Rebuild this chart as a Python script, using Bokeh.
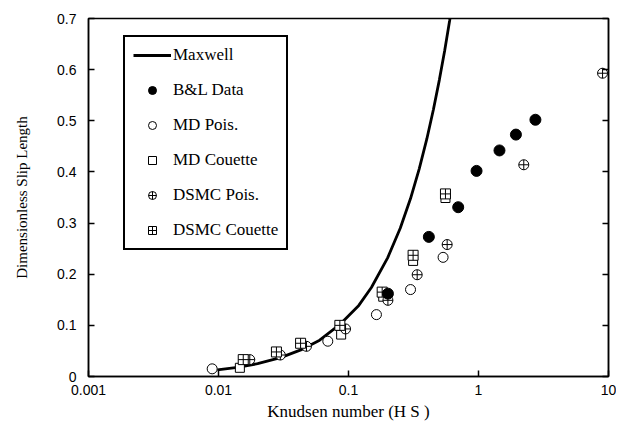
from bokeh.plotting import figure
from bokeh.models import FixedTicker, LinearAxis, Legend, LegendItem
from bokeh.embed import file_html
from bokeh.resources import INLINE

# Maxwell curve
maxwell_kn = [0.0098, 0.014, 0.02, 0.03, 0.043, 0.06, 0.087, 0.12, 0.15, 0.2, 0.25,
              0.3, 0.35, 0.4, 0.45, 0.5, 0.55, 0.6, 0.63]
maxwell_s = [0.013, 0.018, 0.025, 0.037, 0.052, 0.071, 0.103, 0.139, 0.174, 0.232, 0.290,
             0.348, 0.406, 0.464, 0.522, 0.580, 0.638, 0.696, 0.731]

bl_kn = [0.201, 0.415, 0.698, 0.966, 1.45, 1.94, 2.74]
bl_s = [0.162, 0.273, 0.331, 0.402, 0.442, 0.473, 0.502]

mdp_kn = [0.00894, 0.0693, 0.164, 0.300, 0.534]
mdp_s = [0.015, 0.069, 0.121, 0.170, 0.233]

mdc_kn = [0.0146, 0.0878, 0.185, 0.314, 0.557]
mdc_s = [0.017, 0.082, 0.156, 0.226, 0.349]

dsp_kn = [0.0174, 0.0299, 0.0475, 0.0949, 0.201, 0.3375, 0.574, 2.23, 9.0]
dsp_s = [0.033, 0.042, 0.059, 0.093, 0.149, 0.199, 0.258, 0.414, 0.593]

dsc_kn = [0.0155, 0.0279, 0.0428, 0.0858, 0.1816, 0.314, 0.557]
dsc_s = [0.033, 0.048, 0.065, 0.100, 0.165, 0.237, 0.357]

x_tick_vals = [0.001, 0.01, 0.1, 1, 10]
x_tick_labels = ["0.001", "0.01", "0.1", "1", "10"]
y_tick_vals = [0, 0.1, 0.2, 0.3, 0.4, 0.5, 0.6, 0.7]
y_tick_labels = ["0", "0.1", "0.2", "0.3", "0.4", "0.5", "0.6", "0.7"]

p = figure(width=616, height=424, x_axis_type="log", x_range=(0.001, 10), y_range=(0, 0.7),
           output_backend="svg", toolbar_location=None,
           min_border_left=88, min_border_right=8, min_border_top=18, min_border_bottom=48)
p.grid.visible = False
p.outline_line_color = "black"
p.outline_line_width = 1.5
p.background_fill_color = "white"
p.border_fill_color = "white"

tick_font = "Liberation Sans"
title_font = "Liberation Serif"

xa = p.xaxis[0]
xa.ticker = FixedTicker(ticks=x_tick_vals)
xa.major_label_overrides = dict(zip(x_tick_vals, x_tick_labels))
xa.axis_label = "Knudsen number (H S )"
ya = p.yaxis[0]
ya.ticker = FixedTicker(ticks=y_tick_vals)
ya.major_label_overrides = dict(zip(y_tick_vals, y_tick_labels))
ya.axis_label = "Dimensionless Slip Length"

for ax in (xa, ya):
    ax.axis_line_color = "black"
    ax.axis_line_width = 1.5
    ax.major_tick_in = 6
    ax.major_tick_out = 0
    ax.major_tick_line_width = 1.5
    ax.minor_tick_line_color = None
    ax.major_label_text_font = tick_font
    ax.major_label_text_font_size = "14px"
    ax.major_label_text_color = "black"
    ax.axis_label_text_font = title_font
    ax.axis_label_text_font_style = "normal"
    ax.axis_label_text_color = "black"
xa.axis_label_text_font_size = "17px"
ya.axis_label_text_font_size = "15px"
xa.major_label_standoff = 8
xa.axis_label_standoff = 4
ya.major_label_standoff = 12
ya.axis_label_standoff = 24

ra = LinearAxis(ticker=FixedTicker(ticks=y_tick_vals), major_label_text_font_size="1px",
                major_label_text_color=None,
                major_tick_in=6, major_tick_out=0, major_tick_line_width=1.5,
                minor_tick_line_color=None, axis_line_width=1.5, major_label_standoff=0)
p.add_layout(ra, "right")

r_max = p.line(maxwell_kn, maxwell_s, line_color="black", line_width=2.8)
r_mdp = p.scatter(mdp_kn, mdp_s, marker="circle", size=10, fill_color="white", line_color="black", line_width=1)
r_mdc = p.scatter(mdc_kn, mdc_s, marker="square", size=9, fill_color="white", line_color="black", line_width=1)
r_dsp = p.scatter(dsp_kn, dsp_s, marker="circle_cross", size=10, fill_color="white", line_color="black", line_width=1)
r_dsc = p.scatter(dsc_kn, dsc_s, marker="square_cross", size=10, fill_color="white", line_color="black", line_width=1)
r_bl = p.scatter(bl_kn, bl_s, marker="circle", size=11, fill_color="black", line_color="black")

legend = Legend(items=[
    LegendItem(label="Maxwell", renderers=[r_max]),
    LegendItem(label="B&L Data", renderers=[r_bl]),
    LegendItem(label="MD Pois.", renderers=[r_mdp]),
    LegendItem(label="MD Couette", renderers=[r_mdc]),
    LegendItem(label="DSMC Pois.", renderers=[r_dsp]),
    LegendItem(label="DSMC Couette", renderers=[r_dsc]),
], location=(35, 126))
legend.label_text_font = title_font
legend.label_text_font_size = "17px"
legend.label_text_color = "black"
legend.glyph_width = 38
legend.glyph_height = 20
legend.label_height = 20
legend.label_standoff = 2
legend.spacing = 15
legend.padding = 8
legend.margin = 0
legend.border_line_color = "black"
legend.border_line_alpha = 1
legend.border_line_width = 2
legend.background_fill_alpha = 1
p.add_layout(legend)

open("out.html", "w").write(file_html(p, INLINE))
